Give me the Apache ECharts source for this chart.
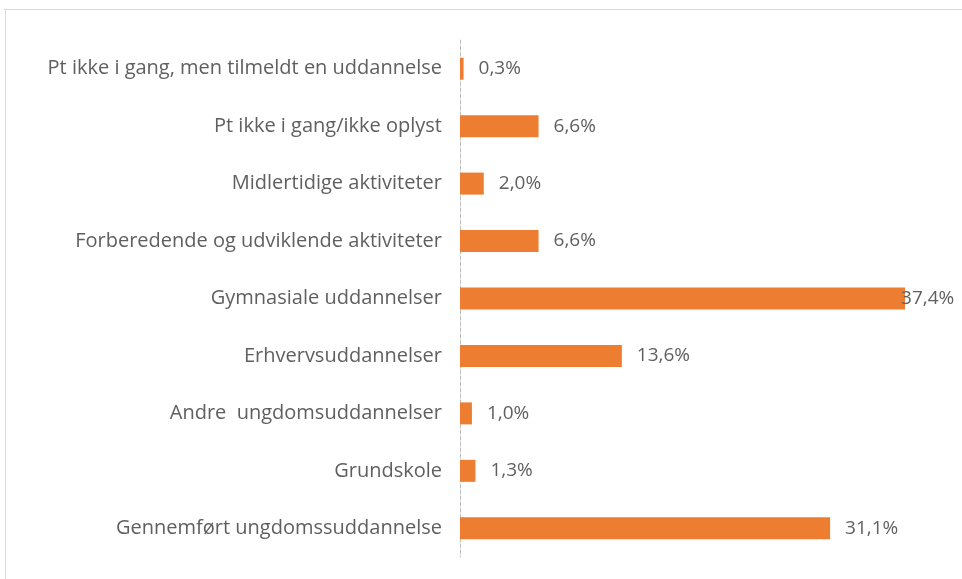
<!DOCTYPE html>
<html>
<head>
<meta charset="utf-8">
<script src="https://cdn.jsdelivr.net/npm/echarts@6/dist/echarts.min.js"></script>
<style>html,body{margin:0;padding:0;background:#fff}#c{width:962px;height:579px}</style>
</head>
<body>
<div id="c"></div>
<script>
const categories = [
  "Pt ikke i gang, men tilmeldt en uddannelse",
  "Pt ikke i gang/ikke oplyst",
  "Midlertidige aktiviteter",
  "Forberedende og udviklende aktiviteter",
  "Gymnasiale uddannelser",
  "Erhvervsuddannelser",
  "Andre  ungdomsuddannelser",
  "Grundskole",
  "Gennemført ungdomssuddannelse"
];
const values = [0.3, 6.6, 2.0, 6.6, 37.4, 13.6, 1.0, 1.3, 31.1];

const chart = echarts.init(document.getElementById('c'));
const fmt = v => v.toFixed(1).replace('.', ',') + '%';
chart.setOption({
  animation: false,
  backgroundColor: '#fff',
  grid: { left: 460, right: 26, top: 40, bottom: 22, containLabel: false },
  xAxis: {
    type: 'value', min: 0, max: 40, show: false
  },
  yAxis: {
    type: 'category', data: categories, inverse: true,
    axisLine: { show: true, lineStyle: { color: '#bfbfbf', type: 'dashed', width: 1 } },
    axisTick: { show: false },
    axisLabel: { color: '#5f5f5f', fontFamily: 'Open Sans', fontSize: 20, margin: 18 }
  },
  series: [{
    type: 'bar',
    data: values.map((v, i) => i === 4 ? { value: v, label: { offset: [-19, 0] } } : v),
    barWidth: 22,
    itemStyle: { color: '#ED7D31' },
    label: {
      show: true, position: 'right', distance: 15,
      color: '#5f5f5f', fontFamily: 'Open Sans', fontSize: 19,
      formatter: p => fmt(p.value)
    }
  }],
  graphic: [
    { type: 'line', shape: { x1: 4, y1: 9.5, x2: 962, y2: 9.5 }, style: { stroke: '#d9d9d9', lineWidth: 1 } },
    { type: 'line', shape: { x1: 5.5, y1: 9, x2: 5.5, y2: 579 }, style: { stroke: '#d9d9d9', lineWidth: 1 } }
  ]
});
</script>
</body>
</html>
